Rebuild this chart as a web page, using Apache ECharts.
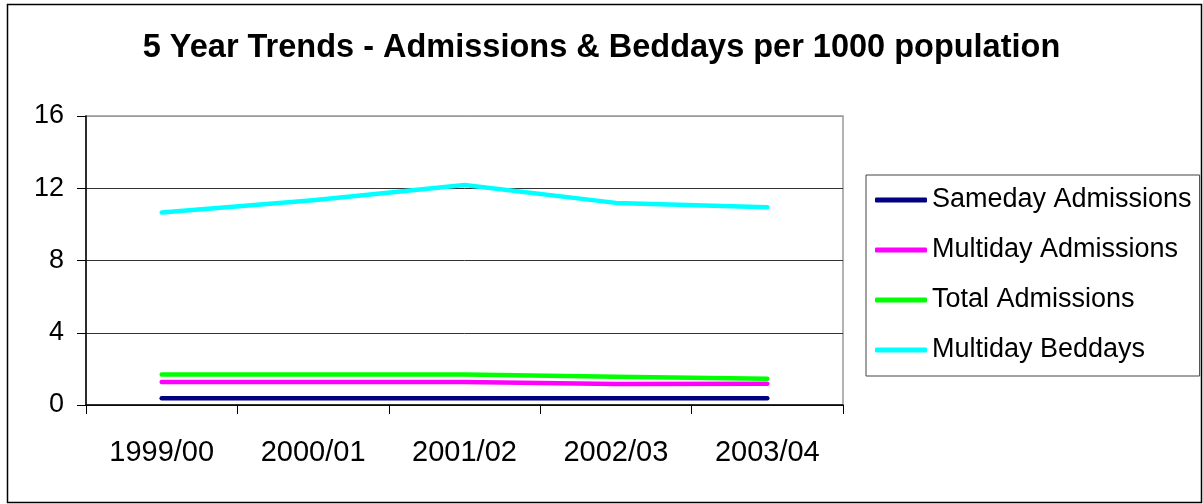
<!DOCTYPE html>
<html>
<head>
<meta charset="utf-8">
<style>
  html, body { margin: 0; padding: 0; background: #fff; }
  #chart { width: 1203px; height: 504px; }
</style>
<script src="https://cdn.jsdelivr.net/npm/echarts@6/dist/echarts.min.js"></script>
</head>
<body>
<div id="chart"></div>
<script>
var categories = ['1999/00', '2000/01', '2001/02', '2002/03', '2003/04'];
var sameday = [0.37, 0.37, 0.37, 0.37, 0.37];
var multiday = [1.28, 1.28, 1.28, 1.16, 1.17];
var totalAdm = [1.69, 1.69, 1.69, 1.56, 1.45];
var beddays = [10.66, 11.34, 12.18, 11.19, 10.95];
var seriesNames = ['Sameday Admissions', 'Multiday Admissions', 'Total Admissions', 'Multiday Beddays'];
var seriesColors = ['#000080', '#FF00FF', '#00FF00', '#00FFFF'];
var seriesData = [sameday, multiday, totalAdm, beddays];

var FONT = '"Liberation Sans", Arial, sans-serif';
var chart = echarts.init(document.getElementById('chart'), null, { renderer: 'canvas' });

var series = seriesNames.map(function (n, i) {
  return {
    name: n,
    type: 'line',
    data: seriesData[i],
    symbol: 'none',
    color: seriesColors[i],
    lineStyle: { width: 4.5, color: seriesColors[i], cap: 'round', join: 'round' },
    animation: false
  };
});

chart.setOption({
  animation: false,
  backgroundColor: '#fff',
  title: {
    text: '5 Year Trends - Admissions & Beddays per 1000 population',
    left: 'center',
    top: 30,
    padding: 0,
    textStyle: { fontFamily: FONT, fontSize: 32.5, fontWeight: 'bold', color: '#000', lineHeight: 37 }
  },
  graphic: [{
    type: 'rect',
    shape: { x: 7.5, y: 4.5, width: 1194, height: 498 },
    style: { fill: 'none', stroke: '#000', lineWidth: 1.5 },
    silent: true,
    z: -1
  }],
  legend: {
    orient: 'vertical',
    left: 866,
    top: 175,
    padding: [10, 8, 11, 9],
    itemGap: 20,
    itemWidth: 52,
    itemHeight: 5,
    icon: 'roundRect',
    borderColor: '#444',
    borderWidth: 1,
    backgroundColor: '#fff',
    textStyle: { fontFamily: FONT, fontSize: 27, color: '#000', lineHeight: 30 },
    data: seriesNames
  },
  grid: {
    left: 86, top: 116, right: 360, bottom: 99,
    show: true,
    borderColor: '#999',
    borderWidth: 1.5,
    backgroundColor: 'transparent'
  },
  xAxis: {
    type: 'category',
    data: categories,
    boundaryGap: true,
    axisLine: { show: true, lineStyle: { color: '#000', width: 1.5 } },
    axisTick: { show: true, inside: false, length: 9, alignWithLabel: false, lineStyle: { color: '#000', width: 1 } },
    axisLabel: { fontFamily: FONT, fontSize: 29, color: '#000', margin: 33, lineHeight: 30 },
    splitLine: { show: false }
  },
  yAxis: {
    type: 'value',
    min: 0, max: 16, interval: 4,
    axisLine: { show: true, lineStyle: { color: '#000', width: 1.5 } },
    axisTick: { show: true, inside: false, length: 9, lineStyle: { color: '#000', width: 1 } },
    axisLabel: { fontFamily: FONT, fontSize: 27, color: '#000', margin: 22 },
    splitLine: { show: true, lineStyle: { color: ['#333', '#333', '#333', '#333', '#999'], width: 1 } }
  },
  series: series
});
</script>
</body>
</html>
